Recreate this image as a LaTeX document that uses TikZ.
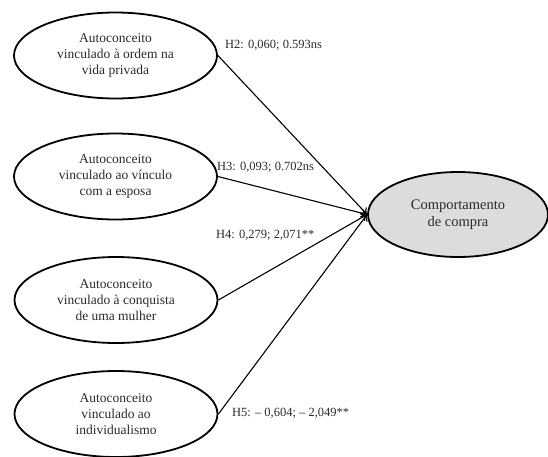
\documentclass[tikz,border=0pt]{standalone}
\usepackage{fontspec}
\setmainfont{Liberation Serif}
\usetikzlibrary{shapes.geometric,arrows.meta}
\definecolor{txt}{HTML}{2A2A2A}
\definecolor{fillg}{HTML}{DCDCDC}
\tikzset{
  construct/.style={ellipse, draw=black, line width=1.8pt, inner sep=0pt,
    minimum width=203pt, minimum height=86pt, align=center, text=txt,
    font=\fontsize{13.5}{16}\selectfont},
  target/.style={construct, fill=fillg, minimum width=180pt, minimum height=85pt,
    font=\fontsize{14.5}{17}\selectfont},
  path/.style={draw=black, line width=1.1pt, -{To[length=6pt,width=9pt]}},
  coef/.style={anchor=west, inner sep=0pt, text=txt, font=\fontsize{12.5}{14}\selectfont}
}
\begin{document}
\begin{tikzpicture}[x=1pt,y=-1pt]
\useasboundingbox (0,0) rectangle (548,456);
\node[construct] (a) at (115.5,55.5) {Autoconceito\\vinculado à ordem na\\vida privada};
\node[construct] (b) at (115.5,176.5) {Autoconceito\\vinculado ao vínculo\\com a esposa};
\node[construct] (c) at (116,300) {Autoconceito\\vinculado à conquista\\de uma mulher};
\node[construct] (d) at (116,414) {Autoconceito\\vinculado ao\\individualismo};
\node[target] (t) at (458,214.5) {Comportamento\\de compra};
\draw[path] (a.east) -- (t.west);
\draw[path] (b.east) -- (t.west);
\draw[path] (c.east) -- (t.west);
\draw[path] (d.east) -- (t.west);
\node[coef] (la) at (225,45) {H2: 0,060; 0.593ns};
\node[coef] (lb) at (217,167) {H3: 0,093; 0.702ns};
\node[coef] (lc) at (216,235) {H4: 0,279; 2,071**};
\node[coef] (ld) at (232,413) {H5: – 0,604; – 2,049**};
\end{tikzpicture}
\end{document}
